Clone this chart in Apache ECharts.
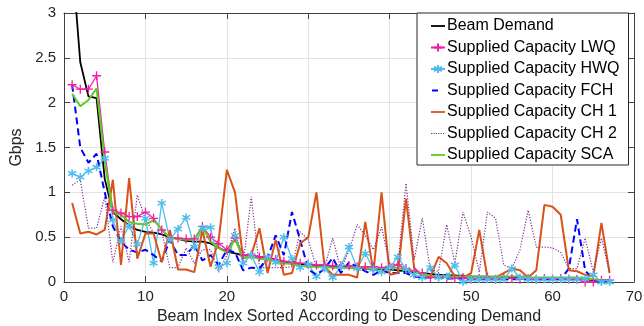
<!DOCTYPE html>
<html>
<head>
<meta charset="utf-8">
<script src="https://cdn.jsdelivr.net/npm/echarts@6/dist/echarts.min.js"></script>
<style>
  html, body { margin: 0; padding: 0; background: #fff; }
  #chart { width: 644px; height: 326px; }
</style>
</head>
<body>
<div id="chart"></div>
<script>
// Beam index (x positions), sorted by descending demand
const beamIndex = [1,2,3,4,5,6,7,8,9,10,11,12,13,14,15,16,17,18,19,20,21,22,23,24,25,26,27,28,29,30,31,32,33,34,35,36,37,38,39,40,41,42,43,44,45,46,47,48,49,50,51,52,53,54,55,56,57,58,59,60,61,62,63,64,65,66,67];

// Values in Gbps per beam
const beamDemand = [3.6,2.45,2.07,2.05,1.15,0.78,0.7,0.63,0.58,0.56, 0.55,0.53,0.5,0.48,0.46,0.45,0.45,0.43,0.38,0.34, 0.32,0.3,0.29,0.28,0.27,0.25,0.23,0.21,0.2,0.19, 0.18,0.18,0.17,0.17,0.16,0.16,0.15,0.15,0.14,0.14, 0.13,0.12,0.11,0.1,0.09,0.08,0.08,0.07,0.07,0.06, 0.06,0.06,0.05,0.05,0.05,0.05,0.04,0.04,0.04,0.04, 0.04,0.03,0.03,0.03,0.02,0.02,0.02];
const capacityLWQ = [2.2,2.15,2.15,2.3,1.45,0.8,0.77,0.73,0.73,0.78, 0.71,0.58,0.49,0.49,0.48,0.48,0.62,0.5,0.43,0.36, 0.49,0.3,0.3,0.28,0.27,0.25,0.23,0.22,0.21,0.2, 0.19,0.19,0.18,0.18,0.18,0.17,0.17,0.17,0.16,0.17, 0.19,0.15,0.12,0.1,0.05,0.06,0.05,0.04,0.05,0.03, 0.04,0.05,0.03,0.04,0.04,0.03,0.04,0.03,0.04,0.03, 0.04,0.03,0.03,0.0,0.0,0.02,0.02];
const capacityHWQ = [1.21,1.17,1.24,1.28,1.38,0.69,0.46,0.63,0.42,0.71, 0.21,0.88,0.47,0.59,0.72,0.39,0.6,0.61,0.17,0.21, 0.52,0.21,0.3,0.11,0.28,0.22,0.5,0.26,0.16,0.2, 0.06,0.15,0.05,0.17,0.39,0.15,0.32,0.14,0.11,0.16, 0.28,0.14,0.08,0.05,0.16,0.05,0.06,0.19,0.0,0.03, 0.03,0.03,0.03,0.03,0.15,0.05,0.03,0.03,0.03,0.03, 0.03,0.03,0.03,0.04,0.08,0.0,0.0];
const capacityFCH = [2.2,1.5,1.33,1.43,1.0,0.62,0.45,0.36,0.33,0.36, 0.3,0.23,0.47,0.3,0.3,0.41,0.24,0.3,0.19,0.36, 0.33,0.13,0.16,0.15,0.27,0.52,0.3,0.78,0.47,0.14, 0.08,0.15,0.27,0.1,0.22,0.17,0.12,0.08,0.13,0.1, 0.1,0.1,0.06,0.05,0.05,0.05,0.04,0.04,0.04,0.04, 0.04,0.04,0.04,0.03,0.03,0.03,0.03,0.03,0.03,0.03, 0.03,0.15,0.7,0.13,0.02,0.01,0.01];
const capacityCH1 = [0.88,0.54,0.56,0.53,0.58,1.14,0.19,1.16,0.26,0.54, 0.54,0.22,0.58,0.14,0.14,0.11,0.58,0.17,0.47,1.25, 1.0,0.26,0.3,0.6,0.1,0.47,0.08,0.1,0.43,0.5, 1.0,0.17,0.08,0.08,0.08,0.05,0.67,0.11,1.0,0.08, 0.1,0.93,0.16,0.06,0.06,0.28,0.21,0.06,0.05,0.1, 0.58,0.05,0.05,0.1,0.15,0.13,0.05,0.13,0.86,0.84, 0.75,0.13,0.12,0.08,0.06,0.66,0.1];
const capacityCH2 = [1.08,1.14,0.6,0.6,0.95,0.22,0.62,0.22,0.97,0.7, 0.55,0.56,0.16,0.16,0.38,0.21,0.36,0.36,0.11,0.3, 0.6,0.2,0.95,0.16,0.16,0.16,0.16,0.17,0.56,0.47, 0.16,0.16,0.49,0.14,0.35,0.64,0.52,0.36,0.61,0.2, 0.2,1.1,0.25,0.71,0.13,0.12,0.64,0.21,0.78,0.5, 0.11,0.78,0.71,0.19,0.15,0.36,0.8,0.39,0.39,0.38, 0.33,0.15,0.15,0.49,0.11,0.49,0.1];
const capacitySCA = [2.1,1.96,2.03,2.16,1.35,0.78,0.75,0.67,0.65,0.64, 0.69,0.59,0.49,0.48,0.47,0.47,0.61,0.45,0.38,0.33, 0.48,0.27,0.28,0.26,0.25,0.23,0.21,0.2,0.18,0.17, 0.17,0.17,0.16,0.16,0.16,0.16,0.16,0.15,0.15,0.16, 0.16,0.14,0.12,0.09,0.07,0.06,0.06,0.06,0.06,0.06, 0.06,0.06,0.06,0.06,0.06,0.06,0.05,0.05,0.05,0.05, 0.05,0.05,0.05,0.04,0.03,0.02,0.02];

const seriesNames = ['Beam Demand','Supplied Capacity LWQ','Supplied Capacity HWQ','Supplied Capacity FCH','Supplied Capacity CH 1','Supplied Capacity CH 2','Supplied Capacity SCA'];

function pairs(vals) {
  return vals.map((v, i) => [beamIndex[i], v]);
}

const FONT = 'Liberation Sans, Arial, Helvetica, sans-serif';
const AXIS_COLOR = '#404040';
const TEXT_COLOR = '#262626';

const COLORS = {
  demand: '#000000', lwq: '#f21fa6', hwq: '#4dbeee', fch: '#0000ff',
  ch1: '#d95319', ch2: '#7e2f8e', sca: '#5ecc1c'
};

const plusPath = 'path://M0,5L10,5M5,0L5,10';
const starPath = 'path://M5,0L5,10M0.67,2.5L9.33,7.5M0.67,7.5L9.33,2.5';

// Legend glyphs drawn in a 14x10 box (the leading moves fix the box size)
const solidIcon = 'path://M0,0M14,10M0,4.1h14v1.8h-14z';
const dashIcon = 'path://M0,0M14,10M1,4h6v2h-6z';
const dotIcon = 'path://M0,0M14,10M0,4.4h1.2v1.2h-1.2zM2.4,4.4h1.2v1.2h-1.2zM4.8,4.4h1.2v1.2h-1.2zM7.2,4.4h1.2v1.2h-1.2zM9.6,4.4h1.2v1.2h-1.2zM12,4.4h1.2v1.2h-1.2z';

const chart = echarts.init(document.getElementById('chart'), null, { renderer: 'canvas' });

function frameAxis(extra) {
  return Object.assign({
    type: 'value',
    axisLine: { show: true, onZero: false, lineStyle: { color: AXIS_COLOR, width: 1 } },
    axisTick: { show: true, inside: true, length: 6, lineStyle: { color: AXIS_COLOR } },
    axisLabel: { show: false },
    splitLine: { show: false }
  }, extra);
}

chart.setOption({
  animation: false,
  backgroundColor: '#fff',
  grid: { left: 64, right: 10, top: 13, bottom: 44, containLabel: false, outerBoundsMode: 'none' },
  legend: {
    orient: 'vertical',
    left: 417,
    top: 13,
    padding: [4, 9, 1, 13],
    itemGap: 3.5,
    itemWidth: 14,
    itemHeight: 10,
    backgroundColor: '#fff',
    borderColor: '#262626',
    borderWidth: 1,
    borderRadius: 0,
    selectedMode: false,
    textStyle: { fontFamily: FONT, fontSize: 16, color: '#000', lineHeight: 18, padding: [0, 0, 0, -3] },
    data: [
      { name: seriesNames[0], icon: solidIcon, itemStyle: { color: COLORS.demand } },
      { name: seriesNames[1] },
      { name: seriesNames[2] },
      { name: seriesNames[3], icon: dashIcon, itemStyle: { color: COLORS.fch } },
      { name: seriesNames[4], icon: solidIcon, itemStyle: { color: COLORS.ch1 } },
      { name: seriesNames[5], icon: dotIcon, itemStyle: { color: COLORS.ch2 } },
      { name: seriesNames[6], icon: solidIcon, itemStyle: { color: COLORS.sca } }
    ]
  },
  xAxis: [
    {
      type: 'value', min: 0, max: 70, interval: 10,
      name: 'Beam Index Sorted According to Descending Demand',
      nameLocation: 'middle', nameGap: 27,
      nameTextStyle: { fontFamily: FONT, fontSize: 16, color: TEXT_COLOR },
      axisLine: { show: true, onZero: false, lineStyle: { color: AXIS_COLOR, width: 1 } },
      axisTick: { show: true, inside: true, length: 6, lineStyle: { color: AXIS_COLOR } },
      axisLabel: { fontFamily: FONT, fontSize: 15, color: TEXT_COLOR, margin: 7 },
      splitLine: { show: true, lineStyle: { color: '#e3e3e3', width: 1 } }
    },
    frameAxis({ min: 0, max: 70, interval: 10, position: 'top' })
  ],
  yAxis: [
    {
      type: 'value', min: 0, max: 3, interval: 0.5,
      name: 'Gbps', nameLocation: 'middle', nameGap: 36, nameRotate: 90,
      nameTextStyle: { fontFamily: FONT, fontSize: 16, color: TEXT_COLOR },
      axisLine: { show: true, onZero: false, lineStyle: { color: AXIS_COLOR, width: 1 } },
      axisTick: { show: true, inside: true, length: 6, lineStyle: { color: AXIS_COLOR } },
      axisLabel: { fontFamily: FONT, fontSize: 15, color: TEXT_COLOR, margin: 8 },
      splitLine: { show: true, lineStyle: { color: '#e3e3e3', width: 1 } }
    },
    frameAxis({ min: 0, max: 3, interval: 0.5, position: 'right' })
  ],
  series: [
    {
      name: seriesNames[0], type: 'line', data: pairs(beamDemand),
      symbol: 'none', lineStyle: { color: COLORS.demand, width: 1.8 }, itemStyle: { color: COLORS.demand }
    },
    {
      name: seriesNames[1], type: 'line', data: pairs(capacityLWQ),
      symbol: plusPath, symbolSize: 9, showSymbol: true, showAllSymbol: true,
      lineStyle: { color: COLORS.lwq, width: 1.3 },
      itemStyle: { color: 'rgba(0,0,0,0)', borderColor: COLORS.lwq, borderWidth: 1.3 }
    },
    {
      name: seriesNames[2], type: 'line', data: pairs(capacityHWQ),
      symbol: starPath, symbolSize: 8, showSymbol: true, showAllSymbol: true,
      lineStyle: { color: COLORS.hwq, width: 1.3 },
      itemStyle: { color: 'rgba(0,0,0,0)', borderColor: COLORS.hwq, borderWidth: 1.5 }
    },
    {
      name: seriesNames[3], type: 'line', data: pairs(capacityFCH),
      symbol: 'none', lineStyle: { color: COLORS.fch, width: 2, type: [7, 4] }, itemStyle: { color: COLORS.fch }
    },
    {
      name: seriesNames[4], type: 'line', data: pairs(capacityCH1),
      symbol: 'none', lineStyle: { color: COLORS.ch1, width: 2 }, itemStyle: { color: COLORS.ch1 }
    },
    {
      name: seriesNames[5], type: 'line', data: pairs(capacityCH2),
      symbol: 'none', lineStyle: { color: COLORS.ch2, width: 1.2, type: [1.2, 1.6] }, itemStyle: { color: COLORS.ch2 }
    },
    {
      name: seriesNames[6], type: 'line', data: pairs(capacitySCA),
      symbol: 'none', lineStyle: { color: COLORS.sca, width: 2 }, itemStyle: { color: COLORS.sca }
    }
  ]
});
</script>
</body>
</html>
